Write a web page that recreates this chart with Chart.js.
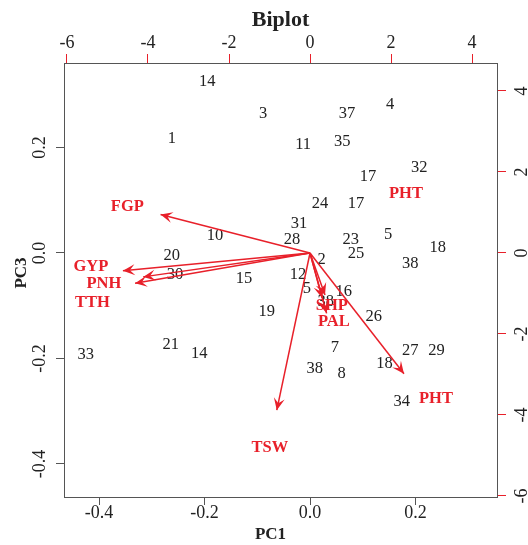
<!DOCTYPE html>
<html>
<head>
<meta charset="utf-8">
<script src="https://cdn.jsdelivr.net/npm/chart.js@4.4.1/dist/chart.umd.min.js"></script>
<style>
  html, body { margin: 0; padding: 0; background: #fff; }
  #wrap { width: 528px; height: 545px; }
</style>
</head>
<body>
<div id="wrap"><canvas id="biplotChart" width="528" height="545"></canvas></div>
<script>
// sample scores (PC1 / PC3)
const sampleLabels = ["14", "3", "1", "37", "4", "11", "35", "17", "32", "24", "17", "31", "28", "23", "25", "5", "18", "38", "2", "12",
  "5", "16", "38", "26", "19", "15", "7", "38", "8", "18", "27", "29", "34", "10", "20", "30", "33", "21", "14"];
const pc1Scores = [-0.195, -0.089, -0.262, 0.070, 0.152, -0.013, 0.061, 0.110, 0.207, 0.019, 0.087, -0.021, -0.034, 0.077, 0.087, 0.148, 0.242, 0.190, 0.022, -0.023,
  -0.006, 0.064, 0.030, 0.121, -0.082, -0.125, 0.047, 0.009, 0.060, 0.141, 0.190, 0.240, 0.174, -0.180, -0.262, -0.256, -0.425, -0.264, -0.210];
const pc3Scores = [0.324, 0.265, 0.216, 0.265, 0.282, 0.205, 0.211, 0.145, 0.162, 0.094, 0.094, 0.055, 0.025, 0.025, -0.002, 0.034, 0.011, -0.021, -0.013, -0.042,
  -0.068, -0.073, -0.092, -0.121, -0.111, -0.048, -0.180, -0.219, -0.228, -0.209, -0.186, -0.186, -0.281, 0.032, -0.006, -0.042, -0.193, -0.173, -0.191];

// variable loadings (arrow tips, top/right axis units)
const arrowX = [-3.69, -4.62, -4.12, -4.32, -0.82, 0.37, 0.30, 0.41, 2.32];
const arrowY = [0.95, -0.44, -0.59, -0.75, -3.88, -1.04, -1.11, -1.49, -2.98];

// variable labels (top/right axis units)
const varNames = ["FGP", "GYP", "PNH", "TTH", "TSW", "SHP", "PAL", "PHT", "PHT"];
const varLabelX = [-4.51, -5.41, -5.09, -5.37, -0.99, 0.54, 0.59, 3.11, 2.37];
const varLabelY = [1.13, -0.34, -0.77, -1.24, -4.81, -1.31, -1.70, -3.61, 1.46];

const pc1Ticks = [-0.4, -0.2, 0.0, 0.2];
const pc3Ticks = [-0.4, -0.2, 0.0, 0.2];
const topTicks = [-6, -4, -2, 0, 2, 4];
const rightTicks = [-6, -4, -2, 0, 2, 4];

const RED = "#e8202a";
const INK = "#222222";
const BOX = "#555555";
const SERIF = "'Liberation Serif', 'Times New Roman', serif";

function setTicks(values) {
  return (axis) => { axis.ticks = values.map(v => ({ value: v })); };
}

// text labels, arrowheads, rotated y tick labels, titles
const biplotText = {
  id: "biplotText",
  beforeDatasetsDraw(chart) {
    const ctx = chart.ctx;
    const pts = chart.getDatasetMeta(0).data;
    ctx.save();
    ctx.fillStyle = INK;
    ctx.font = "16.5px " + SERIF;
    ctx.textAlign = "center";
    ctx.textBaseline = "middle";
    pts.forEach((p, i) => ctx.fillText(sampleLabels[i], p.x, p.y));
    ctx.restore();
  },
  afterDatasetsDraw(chart) {
    const ctx = chart.ctx;
    const { x2, y2 } = chart.scales;
    ctx.save();
    ctx.fillStyle = RED;
    const ox = x2.getPixelForValue(0), oy = y2.getPixelForValue(0);
    arrowX.forEach((ax, i) => {
      const tx = x2.getPixelForValue(ax), ty = y2.getPixelForValue(arrowY[i]);
      const ang = Math.atan2(ty - oy, tx - ox);
      const len = 12, half = 5.5, notch = 7;
      ctx.save();
      ctx.translate(tx, ty);
      ctx.rotate(ang);
      ctx.beginPath();
      ctx.moveTo(0, 0);
      ctx.lineTo(-len, -half);
      ctx.lineTo(-notch, 0);
      ctx.lineTo(-len, half);
      ctx.closePath();
      ctx.fill();
      ctx.restore();
    });
    const lbl = chart.getDatasetMeta(chart.data.datasets.length - 1).data;
    ctx.font = "bold 16.5px " + SERIF;
    ctx.textAlign = "center";
    ctx.textBaseline = "middle";
    lbl.forEach((p, i) => ctx.fillText(varNames[i], p.x, p.y));
    ctx.restore();
  },
  afterDraw(chart) {
    const ctx = chart.ctx;
    const { y, y2 } = chart.scales;
    const area = chart.chartArea;
    ctx.save();
    ctx.textAlign = "center";
    ctx.textBaseline = "middle";
    ctx.font = "18px " + SERIF;
    ctx.fillStyle = INK;
    y.ticks.forEach(t => {
      ctx.save();
      ctx.translate(area.left - 24, y.getPixelForValue(t.value));
      ctx.rotate(-Math.PI / 2);
      ctx.fillText(t.value.toFixed(1), 0, 0);
      ctx.restore();
    });
    y2.ticks.forEach(t => {
      ctx.save();
      ctx.translate(area.right + 25, y2.getPixelForValue(t.value));
      ctx.rotate(-Math.PI / 2);
      ctx.fillText(String(t.value), 0, 0);
      ctx.restore();
    });
    ctx.font = "bold 22px " + SERIF;
    ctx.fillText("Biplot", (area.left + area.right) / 2, 20);
    ctx.font = "bold 17px " + SERIF;
    ctx.fillText("PC1", (area.left + area.right) / 2 - 10, 535);
    ctx.save();
    ctx.translate(22, (area.top + area.bottom) / 2 - 7);
    ctx.rotate(-Math.PI / 2);
    ctx.fillText("PC3", 0, 0);
    ctx.restore();
    ctx.restore();
  }
};

const arrowSets = arrowX.map((ax, i) => ({
  data: [{ x: 0, y: 0 }, { x: ax, y: arrowY[i] }],
  xAxisID: "x2", yAxisID: "y2",
  showLine: true, borderColor: RED, borderWidth: 1.5,
  pointRadius: 0, fill: false
}));

new Chart(document.getElementById("biplotChart"), {
  type: "scatter",
  data: {
    datasets: [
      { data: pc1Scores.map((v, i) => ({ x: v, y: pc3Scores[i] })), xAxisID: "x", yAxisID: "y", pointRadius: 0 },
      ...arrowSets,
      { data: varLabelX.map((v, i) => ({ x: v, y: varLabelY[i] })), xAxisID: "x2", yAxisID: "y2", pointRadius: 0 }
    ]
  },
  options: {
    responsive: false,
    animation: false,
    devicePixelRatio: 1,
    layout: { padding: 0 },
    plugins: { legend: { display: false }, tooltip: { enabled: false } },
    scales: {
      x: {
        type: "linear", position: "bottom", min: -0.4664, max: 0.3545,
        afterBuildTicks: setTicks(pc1Ticks),
        afterFit: (s) => { s.height = 48; },
        grid: { drawOnChartArea: false, tickLength: 8, color: BOX },
        border: { color: BOX },
        ticks: { color: INK, font: { family: SERIF, size: 18 }, padding: -3, maxRotation: 0, callback: (v) => v.toFixed(1) }
      },
      x2: {
        type: "linear", position: "top", min: -6.074, max: 4.617,
        afterBuildTicks: setTicks(topTicks),
        afterFit: (s) => { s.height = 63; },
        grid: { drawOnChartArea: false, tickLength: 9, color: RED },
        border: { color: BOX },
        ticks: { color: INK, font: { family: SERIF, size: 18 }, padding: 0, maxRotation: 0, callback: (v) => String(v) }
      },
      y: {
        type: "linear", position: "left", min: -0.4626, max: 0.3602,
        afterBuildTicks: setTicks(pc3Ticks),
        afterFit: (s) => { s.width = 64; },
        grid: { drawOnChartArea: false, tickLength: 8, color: BOX },
        border: { color: BOX },
        ticks: { display: false }
      },
      y2: {
        type: "linear", position: "right", min: -6.025, max: 4.691,
        afterBuildTicks: setTicks(rightTicks),
        afterFit: (s) => { s.width = 31; },
        grid: { drawOnChartArea: false, tickLength: 9, color: RED },
        border: { color: BOX },
        ticks: { display: false }
      }
    }
  },
  plugins: [biplotText]
});
</script>
</body>
</html>
